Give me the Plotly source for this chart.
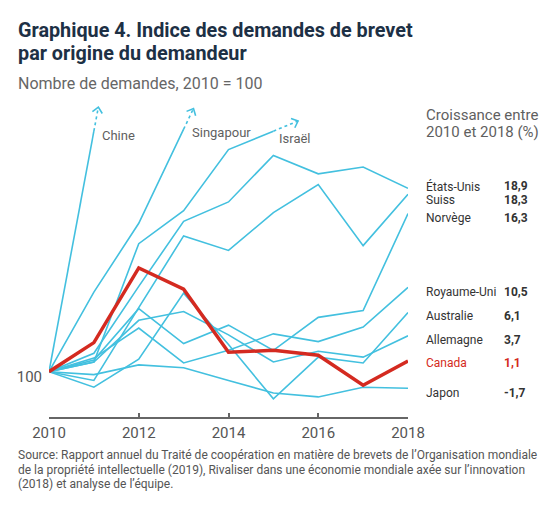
import math
import plotly.graph_objects as go

# ---------------- data ----------------
years = [2010, 2011, 2012, 2013, 2014, 2015, 2016, 2017, 2018]

usa = [100, 101.9, 108.8, 115.5, 117.5, 122.3, 120.4, 121.1, 118.9]
suisse = [100, 99.1, 106.6, 114.0, 112.5, 116.4, 119.3, 113.0, 118.3]
norvege = [100, 101.2, 106.5, 102.9, 104.8, 102.2, 105.6, 106.3, 116.3]
royaume_uni = [100, 101.4, 104.5, 100.9, 102.2, 103.9, 103.1, 104.6, 108.7]
australie = [100, 98.4, 101.3, 108.1, 102.8, 97.2, 101.5, 100.9, 106.1]
allemagne = [100, 101.0, 105.3, 106.2, 103.8, 101.0, 102.1, 101.5, 103.7]
japon = [100, 99.7, 100.7, 100.4, 99.1, 97.8, 97.4, 98.4, 98.3]
canada = [100, 103.0, 110.7, 108.5, 102.0, 102.2, 101.7, 98.6, 101.1]

# series that leave the chart (continue off the top)
chine = [100, 124.8]
singapour = [100, 108.2, 115.3, 125.0]
israel = [100, 101.0, 113.2, 116.6, 122.9, 124.8]

offchart_names = ["Chine", "Singapour", "Israël"]

label_names = ["États-Unis", "Suiss", "Norvège", "Royaume-Uni", "Australie",
               "Allemagne", "Canada", "Japon"]
growth = ["18,9", "18,3", "16,3", "10,5", "6,1", "3,7", "1,1", "-1,7"]

x_ticks = [2010, 2012, 2014, 2016, 2018]

# ---------------- style / layout ----------------
W, H = 555, 515
L, R, T, B = 49, 147, 85, 98
PW, PH = W - L - R, H - T - B
PX_PER_UNIT = 9.7
X_MIN, X_MAX = 2010, 2018
PX_PER_YEAR = PW / (X_MAX - X_MIN)
Y_MIN = 95.33
Y_MAX = Y_MIN + PH / PX_PER_UNIT

BLUE = "#43c0df"
RED = "#d42a20"
GREY = "#5f5f5f"
DARK = "#333333"
TITLE = "#1d3045"
FONT = "Roboto"

arrow_ext = [0.10, 0.22, 0.55]             # dashed extension (fraction of last segment)
HEAD_LEN = 7.5                              # chevron arm length (px)
HEAD_ANGLE = math.radians(42)
offchart_label_px = [(100, 135), (190, 132), (277, 138)]  # label pixel positions
label_y = [119.1, 117.7, 115.8, 108.2, 105.7, 103.3, 100.9, 97.8]  # label y (data units)


def pxx(x):
    return (x - L) / PW


def pxy(y):
    return (H - B - y) / PH


fig = go.Figure()

blue_series = [usa, suisse, norvege, royaume_uni, australie, allemagne, japon]
for s in blue_series:
    fig.add_trace(go.Scatter(x=years[:len(s)], y=s, mode="lines",
                             line=dict(color=BLUE, width=1.6),
                             hoverinfo="skip", showlegend=False))

annotations = []
for s, ext, name, (lx, ly) in zip([chine, singapour, israel], arrow_ext,
                                  offchart_names, offchart_label_px):
    xs = years[:len(s)]
    fig.add_trace(go.Scatter(x=xs, y=s, mode="lines",
                             line=dict(color=BLUE, width=1.6),
                             hoverinfo="skip", showlegend=False))
    x1, y1 = xs[-1], s[-1]
    x0, y0 = xs[-2], s[-2]
    tx = x1 + ext * (x1 - x0)
    ty = y1 + ext * (y1 - y0)
    fig.add_trace(go.Scatter(x=[x1, tx], y=[y1, ty], mode="lines",
                             line=dict(color=BLUE, width=1.6, dash="3px,3px"),
                             hoverinfo="skip", showlegend=False))
    # open chevron head, built in pixel space then mapped back to data units
    dxp = (tx - x1) * PX_PER_YEAR
    dyp = (ty - y1) * PX_PER_UNIT
    n = math.hypot(dxp, dyp)
    bxp, byp = -dxp / n, -dyp / n
    hx, hy = [], []
    for sign in (1, -1):
        a = sign * HEAD_ANGLE
        rx = bxp * math.cos(a) - byp * math.sin(a)
        ry = bxp * math.sin(a) + byp * math.cos(a)
        hx.append(tx + rx * HEAD_LEN / PX_PER_YEAR)
        hy.append(ty + ry * HEAD_LEN / PX_PER_UNIT)
    fig.add_trace(go.Scatter(x=[hx[0], tx, hx[1]], y=[hy[0], ty, hy[1]],
                             mode="lines", line=dict(color=BLUE, width=1.6),
                             hoverinfo="skip", showlegend=False))
    annotations.append(dict(x=pxx(lx), y=pxy(ly), xref="paper", yref="paper",
                            text=name, showarrow=False, xanchor="left",
                            yanchor="middle",
                            font=dict(family=FONT, size=13, color=GREY)))

fig.add_trace(go.Scatter(x=years, y=canada, mode="lines",
                         line=dict(color=RED, width=3.5),
                         hoverinfo="skip", showlegend=False))

# right-hand labels
for name, g, yv in zip(label_names, growth, label_y):
    col = RED if name == "Canada" else DARK
    annotations.append(dict(x=pxx(424), y=yv, xref="paper", yref="y",
                            text=name, showarrow=False, xanchor="left",
                            yanchor="middle",
                            font=dict(family=FONT, size=12, color=col)))
    annotations.append(dict(x=pxx(502), y=yv, xref="paper", yref="y",
                            text="<b>" + g + "</b>", showarrow=False,
                            xanchor="left", yanchor="middle",
                            font=dict(family=FONT, size=12, color=col)))

annotations.append(dict(x=pxx(424), y=pxy(115), xref="paper", yref="paper",
                        text="Croissance entre", showarrow=False,
                        xanchor="left", yanchor="middle",
                        font=dict(family=FONT, size=15, color=GREY)))
annotations.append(dict(x=pxx(424), y=pxy(132), xref="paper", yref="paper",
                        text="2010 et 2018 (%)", showarrow=False,
                        xanchor="left", yanchor="middle",
                        font=dict(family=FONT, size=15, color=GREY)))

# titles
annotations.append(dict(x=pxx(16), y=pxy(31), xref="paper", yref="paper",
                        text="<b>Graphique 4. Indice des demandes de brevet</b>",
                        showarrow=False, xanchor="left", yanchor="middle",
                        font=dict(family=FONT, size=19.8, color=TITLE)))
annotations.append(dict(x=pxx(16), y=pxy(54), xref="paper", yref="paper",
                        text="<b>par origine du demandeur</b>",
                        showarrow=False, xanchor="left", yanchor="middle",
                        font=dict(family=FONT, size=19.8, color=TITLE)))
annotations.append(dict(x=pxx(16), y=pxy(84), xref="paper", yref="paper",
                        text="Nombre de demandes, 2010 = 100",
                        showarrow=False, xanchor="left", yanchor="middle",
                        font=dict(family=FONT, size=16, color="#666666")))

source_lines = [
    "Source: Rapport annuel du Traité de coopération en matière de brevets de l’Organisation mondiale",
    "de la propriété intellectuelle (2019), Rivaliser dans une économie mondiale axée sur l’innovation",
    "(2018) et analyse de l’équipe.",
]
for i, line in enumerate(source_lines):
    annotations.append(dict(x=pxx(16), y=pxy(455.5 + 14.3 * i), xref="paper",
                            yref="paper", text=line, showarrow=False,
                            xanchor="left", yanchor="middle",
                            font=dict(family=FONT, size=12, color="#555555")))

fig.update_layout(
    width=W, height=H,
    margin=dict(l=L, r=R, t=T, b=B, pad=0),
    paper_bgcolor="white", plot_bgcolor="white",
    showlegend=False,
    font=dict(family=FONT),
    annotations=annotations,
    xaxis=dict(range=[X_MIN, X_MAX], tickvals=x_ticks,
               ticktext=[str(v) for v in x_ticks],
               showgrid=False, zeroline=False, showline=True,
               linecolor="#666666", linewidth=1.5,
               ticks="inside", ticklen=4, tickwidth=1.5, tickcolor="#666666",
               tickfont=dict(family=FONT, size=15, color="#555555"),
               ticklabelstandoff=1, fixedrange=True),
    yaxis=dict(range=[Y_MIN, Y_MAX], tickvals=[100], ticktext=["100"],
               showgrid=False, zeroline=False, showline=False, ticks="",
               tickfont=dict(family=FONT, size=15, color="#555555"),
               ticklabelshift=5, ticklabelstandoff=6, fixedrange=True),
)

fig.write_html("out.html", config={"displayModeBar": False},
               post_script="document.body.style.margin='0px';")
